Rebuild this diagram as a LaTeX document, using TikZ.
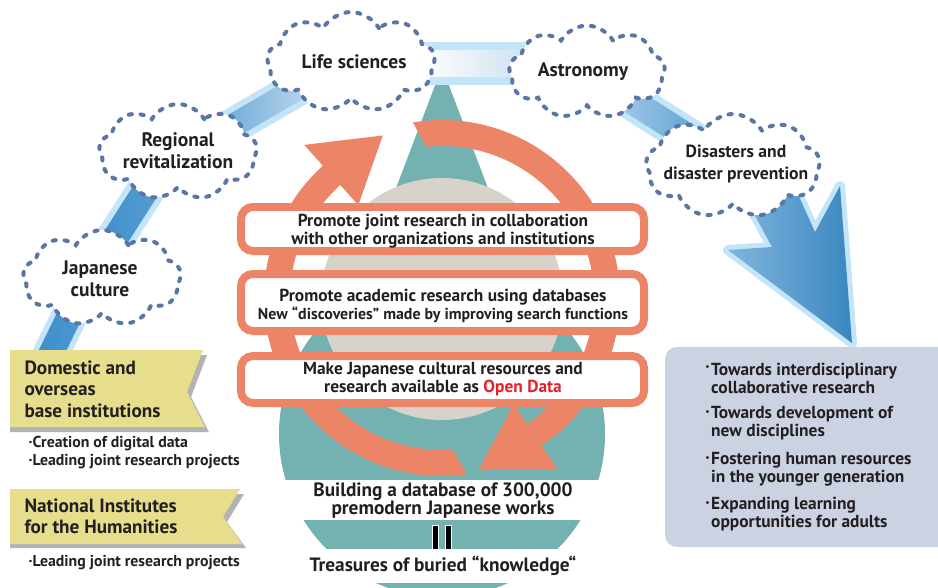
\documentclass[tikz,border=0pt]{standalone}
\usepackage{fontspec}
\setmainfont{PT Sans}
\usetikzlibrary{shapes.symbols,calc}
\definecolor{teal1}{HTML}{74B2B2}
\definecolor{beige1}{HTML}{D8D3CA}
\definecolor{orange1}{HTML}{EC8568}
\definecolor{cloudline}{HTML}{5A76A6}
\definecolor{ribbonlight}{HTML}{C3E5F7}
\definecolor{ribbondark}{HTML}{3D8ECB}
\definecolor{banneryellow}{HTML}{E6DE8C}
\definecolor{bannershadow}{HTML}{B3B3B3}
\definecolor{panelblue}{HTML}{CBD3E3}
\definecolor{txt}{HTML}{231F20}
\definecolor{opendata}{HTML}{E8202A}
\newcommand\ribbonseg[6]{%
  \fill[ribbonlight] ($(#1)!#3!90:(#2)$) -- ($(#2)!#3!-90:(#1)$) -- ($(#2)!#3!90:(#1)$) -- ($(#1)!#3!-90:(#2)$) -- cycle;
  \shade[left color=#5, right color=#6] ($(#1)!#4!90:(#2)$) -- ($(#2)!#4!-90:(#1)$) -- ($(#2)!#4!90:(#1)$) -- ($(#1)!#4!-90:(#2)$) -- cycle;
}
\tikzset{
  cloudshape/.style={cloud, cloud puffs=9, cloud puff arc=120, draw=cloudline, fill=white,
    line width=4pt, dash pattern=on 3.2pt off 8.8pt, line cap=round, inner sep=0pt},
  cloudtext/.style={align=center, font=\fontsize{19.5}{22}\selectfont\bfseries, text=txt},
  stepbox/.style={draw=orange1, line width=8pt, fill=white, rounded corners=12pt},
  boxtext/.style={align=center, font=\fontsize{17.4}{18}\selectfont\bfseries, text=txt},
  bigtext/.style={align=center, font=\fontsize{19.3}{18}\selectfont\bfseries, text=txt},
  bannertext/.style={anchor=west, align=left, font=\fontsize{19.2}{21.5}\selectfont\bfseries, text=txt},
  bullettext/.style={anchor=west, align=left, font=\fontsize{15.8}{18}\selectfont\bfseries, text=txt},
  paneltext/.style={anchor=west, align=left, font=\fontsize{17.4}{18}\selectfont\bfseries, text=txt, inner sep=0pt},
  paneldot/.style={anchor=east, font=\fontsize{17.4}{18}\selectfont\bfseries, text=txt, inner sep=0pt},
}
\begin{document}
\begin{tikzpicture}[x=1pt, y=-1pt]
\useasboundingbox (0,0) rectangle (938,587);
% teal drop and beige circle
\fill[teal1] (442,434) circle[radius=163];
\fill[teal1] (442,67) -- (576,420) -- (308,420) -- cycle;
\fill[beige1] (442,299) circle[radius=121];
% ribbon
\coordinate (r1a) at (45,366);
\coordinate (r1b) at (82,290);
\coordinate (r2a) at (100,262);
\coordinate (r2b) at (162,165);
\coordinate (r3a) at (205,142);
\coordinate (r3b) at (305,84);
\coordinate (r4a) at (415,63.5);
\coordinate (r4b) at (525,63.5);
\coordinate (r5a) at (605,84);
\coordinate (r5b) at (712,152);
\ribbonseg{r1a}{r1b}{18pt}{12.5pt}{ribbondark}{ribbondark!90!white}
\ribbonseg{r2a}{r2b}{19pt}{13pt}{ribbondark}{ribbondark!85!white}
\ribbonseg{r3a}{r3b}{18pt}{12pt}{ribbondark!85!white}{ribbondark!35!white}
\ribbonseg{r4a}{r4b}{21.5pt}{13pt}{white}{ribbondark!25!white}
\ribbonseg{r5a}{r5b}{19pt}{13pt}{ribbondark!40!white}{ribbondark!90!white}
% big ribbon arrow
\coordinate (ha) at (742,192);
\coordinate (hb) at (772,247);
\coordinate (hc) at (728,250);
\coordinate (hd) at (852,343);
\coordinate (he) at (840,186);
\coordinate (hf) at (815,232);
\coordinate (hg) at (797,192);
\draw[ribbonlight, line width=10pt, line join=round] (ha) -- (hb) -- (hc) -- (hd) -- (he) -- (hf) -- (hg) -- cycle;
\shade[left color=ribbondark!65!white, right color=ribbondark!95!black] (ha) -- (hb) -- (hc) -- (hd) -- (he) -- (hf) -- (hg) -- cycle;
% clouds
\node[cloudshape, minimum width=168pt, minimum height=100pt] (life) at (351,62) {};
\node[cloudtext] (lifet) at (354,62) {Life sciences};
\node[cloudshape, minimum width=156pt, minimum height=93pt] (astro) at (587,72) {};
\node[cloudtext] (astrot) at (583,72) {Astronomy};
\node[cloudshape, minimum width=158pt, minimum height=96pt] (regional) at (178,152) {};
\node[cloudtext] (regionalt) at (178,151) {Regional\\revitalization};
\node[cloudshape, minimum width=158pt, minimum height=96pt] (japan) at (102,278) {};
\node[cloudtext] (japant) at (100,279) {Japanese\\culture};
\node[cloudshape, minimum width=174pt, minimum height=104pt] (disaster) at (733,166) {};
\node[cloudtext, font=\fontsize{17.6}{22}\selectfont\bfseries] (disastert) at (736,164) {Disasters and\\disaster prevention};
% orange cycle ring
\begin{scope}[shift={(442,298)}]
  \fill[orange1] (82:178) arc[start angle=82, end angle=228, radius=178] -- (228:206) -- (250:173) -- (228:125) -- (228:152) arc[start angle=228, end angle=86, radius=152] -- cycle;
  \fill[orange1] (260.6:178) arc[start angle=260.6, end angle=416, radius=178] -- (416:206) -- (438:176) -- (416:128) -- (416:152) arc[start angle=416, end angle=264, radius=152] -- cycle;
\end{scope}
% boxes
\draw[stepbox] (241,207) rectangle (644,251);
\draw[stepbox] (241,274) rectangle (644,331);
\draw[stepbox] (241,356) rectangle (644,403);
\node[boxtext] (b1) at (443,231) {Promote joint research in collaboration\\with other organizations and institutions};
\node[boxtext] (b2) at (443,306) {Promote academic research using databases\\{\fontsize{15.9}{18}\selectfont New “discoveries” made by improving search functions}};
\node[boxtext] (b3) at (443,379) {Make Japanese cultural resources and\\research available as \textcolor{opendata}{Open Data}};
% white bands
\fill[white] (255,480) rectangle (635,520);
\fill[white] (255,549) rectangle (635,583);
\node[bigtext] (build) at (443,501) {Building a database of 300,000\\premodern Japanese works};
\filldraw[fill=black, draw=white, line width=0.8pt] (432.5,525) rectangle (438,549);
\filldraw[fill=black, draw=white, line width=0.8pt] (445.5,525) rectangle (451,549);
\node[bigtext] (treas) at (443,566) {Treasures of buried “knowledge“};
% banners
\fill[bannershadow] (10,355) -- (207,355) -- (191,397) -- (209,432) -- (10,432) -- cycle;
\fill[banneryellow] (10,350) -- (203,350) -- (187,392) -- (205,427) -- (10,427) -- cycle;
\node[bannertext] (dom) at (21,389) {Domestic and\\overseas\\base institutions};
\node[bullettext] (dombul) at (25,453) {·Creation of digital data\\·Leading joint research projects};
\fill[bannershadow] (10,494) -- (244,494) -- (227,522) -- (246,548) -- (10,548) -- cycle;
\fill[banneryellow] (10,489) -- (240,489) -- (223,517) -- (242,544) -- (10,544) -- cycle;
\node[bannertext] (nih) at (21,516.5) {National Institutes\\for the Humanities};
\node[bullettext] (nihbul) at (25,563) {·Leading joint research projects};
% right panel
\fill[panelblue, rounded corners=12pt] (665,347) rectangle (960,547);
\node[paneldot] (d1) at (710,369) {·};
\node[paneltext] (p1) at (711,378) {Towards interdisciplinary\\collaborative research};
\node[paneldot] (d2) at (710,414) {·};
\node[paneltext] (p2) at (711,423) {Towards development of\\new disciplines};
\node[paneldot] (d3) at (710,460) {·};
\node[paneltext] (p3) at (711,469) {Fostering human resources\\in the younger generation};
\node[paneldot] (d4) at (710,505) {·};
\node[paneltext] (p4) at (711,514) {Expanding learning\\opportunities for adults};
\end{tikzpicture}
\end{document}
